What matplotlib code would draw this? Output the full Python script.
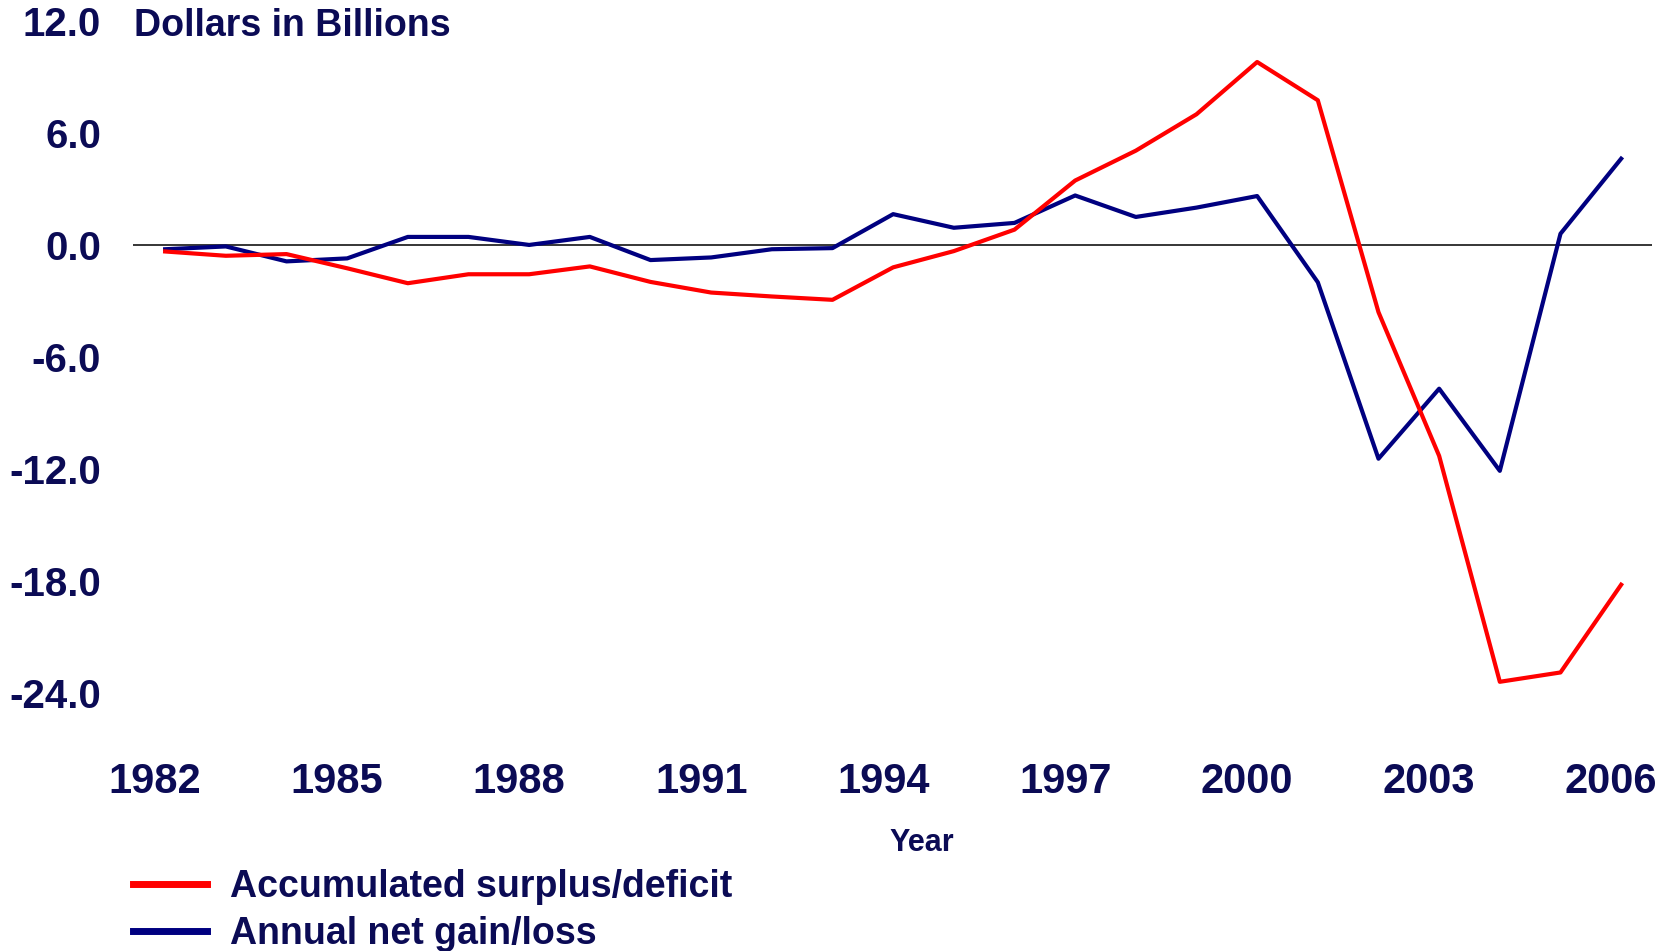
import matplotlib
matplotlib.use("Agg")
import matplotlib.pyplot as plt
import matplotlib.transforms as mtransforms

plt.rcParams['font.family'] = ['Liberation Sans', 'DejaVu Sans']

years = list(range(1982, 2007))
accumulated = [-0.35, -0.58, -0.49, -1.25, -2.05, -1.57, -1.57, -1.15, -1.98, -2.55, -2.76, -2.94,
               -1.2, -0.33, 0.82, 3.45, 5.05, 7.0, 9.8, 7.75, -3.6, -11.3, -23.4, -22.9, -18.2]
annual = [-0.23, -0.08, -0.88, -0.72, 0.43, 0.43, 0.0, 0.43, -0.81, -0.67, -0.23, -0.17,
          1.65, 0.92, 1.18, 2.65, 1.5, 2.0, 2.62, -2.0, -11.45, -7.7, -12.1, 0.6, 4.62]
xticks = list(range(1982, 2007, 3))
yticks = [12.0, 6.0, 0.0, -6.0, -12.0, -18.0, -24.0]

txt = '#0b0b55'
red = '#ff0000'
navy = '#000080'

fig = plt.figure(figsize=(16.73, 9.51), dpi=100)
ax = fig.add_axes([0.0795, 0.2713, 0.908, 0.7067])

ax.axhline(0, color='black', lw=1.1, zorder=1)
l2, = ax.plot(years, annual, color=navy, lw=3.0, label='Annual net gain/loss', zorder=2)
l1, = ax.plot(years, accumulated, color=red, lw=3.0, label='Accumulated surplus/deficit', zorder=3)

ax.set_xlim(1981.47, 2006.51)
ax.set_ylim(-24, 12)
ax.set_xticks(xticks)
ax.set_yticks(yticks)
ax.set_yticklabels(['%.1f' % v for v in yticks])
ax.tick_params(axis='y', length=0, pad=23, labelsize=29, labelcolor=txt)
ax.tick_params(axis='x', length=0, pad=50, labelsize=30, labelcolor=txt)
shift = mtransforms.ScaledTranslation(-0.10, 0, fig.dpi_scale_trans)
for lab in ax.get_xticklabels():
    lab.set_transform(lab.get_transform() + shift)
for lab in ax.get_xticklabels() + ax.get_yticklabels():
    lab.set_fontweight('bold')
for s in ax.spines.values():
    s.set_visible(False)

fig.text(134 / 1673, 1 - 26 / 951, 'Dollars in Billions', fontsize=27, fontweight='bold',
         color=txt, ha='left', va='center')
fig.text(922 / 1673, 1 - 843 / 951, 'Year', fontsize=22, fontweight='bold',
         color=txt, ha='center', va='center')

leg = fig.legend(handles=[l1, l2], loc='upper left', bbox_to_anchor=(133 / 1673, 1 - 869 / 951),
                 frameon=False, fontsize=27, handlelength=1.97, handletextpad=0.63,
                 labelspacing=0.29, borderpad=0, borderaxespad=0)
for t in leg.get_texts():
    t.set_fontweight('bold')
    t.set_color(txt)
for h in leg.legend_handles:
    h.set_linewidth(5)

fig.savefig('out.png', dpi=100)
